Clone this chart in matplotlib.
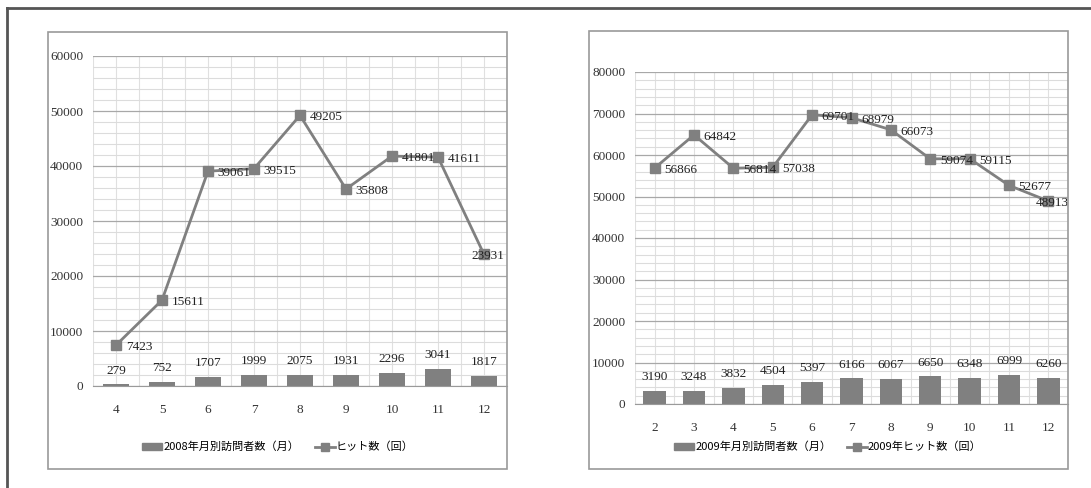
import numpy as np
import matplotlib
matplotlib.use("Agg")
import matplotlib.pyplot as plt
from matplotlib.patches import Rectangle
from matplotlib.lines import Line2D
from matplotlib.ticker import MultipleLocator

# data
months_2008 = [4, 5, 6, 7, 8, 9, 10, 11, 12]
visitors_2008 = [279, 752, 1707, 1999, 2075, 1931, 2296, 3041, 1817]
hits_2008 = [7423, 15611, 39061, 39515, 49205, 35808, 41801, 41611, 23931]

months_2009 = [2, 3, 4, 5, 6, 7, 8, 9, 10, 11, 12]
visitors_2009 = [3190, 3248, 3832, 4504, 5397, 6166, 6067, 6650, 6348, 6999, 6260]
hits_2009 = [56866, 64842, 56814, 57038, 69701, 68979, 66073, 59074, 59115, 52677, 48913]

plt.rcParams['font.family'] = ['Liberation Serif', 'Noto Sans CJK JP']
W, H = 1091, 488
fig = plt.figure(figsize=(W / 100, H / 100), dpi=100)

GRAY = '#808080'
jp = {'family': ['Noto Sans CJK JP', 'DejaVu Sans'], 'size': 8}


def px_rect(x0, y0, x1, y1):
    return [x0 / W, 1 - y1 / H, (x1 - x0) / W, (y1 - y0) / H]


def box(x0, y0, x1, y1):
    fig.patches.append(Rectangle((x0 / W, 1 - y1 / H), (x1 - x0) / W, (y1 - y0) / H,
                                 transform=fig.transFigure, fill=False,
                                 edgecolor='#9a9a9a', lw=1.2))


# outer frame (top and left only)
fig.add_artist(Line2D([7 / W, 1], [1 - 8 / H, 1 - 8 / H], transform=fig.transFigure,
                      color='#555555', lw=2))
fig.add_artist(Line2D([7 / W, 7 / W], [0, 1 - 8 / H], transform=fig.transFigure,
                      color='#555555', lw=2))
box(48, 32, 507, 469)
box(589, 31, 1068, 469)


def chart(rect, months, visitors, hits, ymax, labels, legend_cx, legend_y):
    ax = fig.add_axes(rect)
    x = np.arange(len(months))
    ax.bar(x, visitors, width=0.57, color=GRAY, zorder=3)
    ax.plot(x, hits, color=GRAY, lw=2, marker='s', ms=7, zorder=4)
    ax.set_xlim(-0.5, len(months) - 0.5)
    ax.set_ylim(0, ymax)
    ax.yaxis.set_major_locator(MultipleLocator(10000))
    ax.yaxis.set_minor_locator(MultipleLocator(2000))
    ax.set_xticks(x)
    ax.set_xticklabels([str(m) for m in months])
    ax.set_xticks(np.arange(-0.5, len(months), 1.0), minor=True)
    ax.grid(axis='y', which='major', color='#a8a8a8', lw=0.9, zorder=0)
    ax.grid(axis='y', which='minor', color='#dcdcdc', lw=0.8, zorder=0)
    ax.grid(axis='x', which='both', color='#e0e0e0', lw=0.8, zorder=0)
    for s in ['top', 'right', 'left']:
        ax.spines[s].set_visible(False)
    ax.spines['bottom'].set_color('#9a9a9a')
    ax.spines['bottom'].set_zorder(5)
    ax.tick_params(axis='both', which='both', length=0, labelsize=9.5, colors='#333333')
    ax.tick_params(axis='x', which='major', pad=13)
    ax.tick_params(axis='y', pad=7)

    for i, v in enumerate(visitors):
        ax.annotate(str(v), (i, v), xytext=(0, 10), textcoords='offset points',
                    ha='center', va='center', fontsize=9.5, color='#222222', zorder=6)
    for i, v in enumerate(hits):
        if i == len(hits) - 1:
            ax.annotate(str(v), (i, v), xytext=(3, -1.5), textcoords='offset points',
                        ha='center', va='center', fontsize=9.5, color='#222222', zorder=6)
        else:
            ax.annotate(str(v), (i, v), xytext=(7, -1.5), textcoords='offset points',
                        ha='left', va='center', fontsize=9.5, color='#222222', zorder=6)

    handles = [Rectangle((0, 0), 1, 1, color=GRAY),
               Line2D([], [], color=GRAY, lw=2, marker='s', ms=6)]
    fig.legend(handles, labels, loc='center', bbox_to_anchor=(legend_cx / W, 1 - legend_y / H),
               ncol=2, frameon=False, prop=jp, handlelength=1.8, handleheight=0.6,
               handletextpad=0.1, columnspacing=1.4)
    return ax


chart(px_rect(93, 56, 507, 386), months_2008, visitors_2008, hits_2008, 60000,
      ['2008年月別訪問者数（月）', 'ヒット数（回）'], 278, 447)
chart(px_rect(635, 72, 1068, 404), months_2009, visitors_2009, hits_2009, 80000,
      ['2009年月別訪問者数（月）', '2009年ヒット数（回）'], 828, 447)

fig.savefig('out.png', dpi=100)
